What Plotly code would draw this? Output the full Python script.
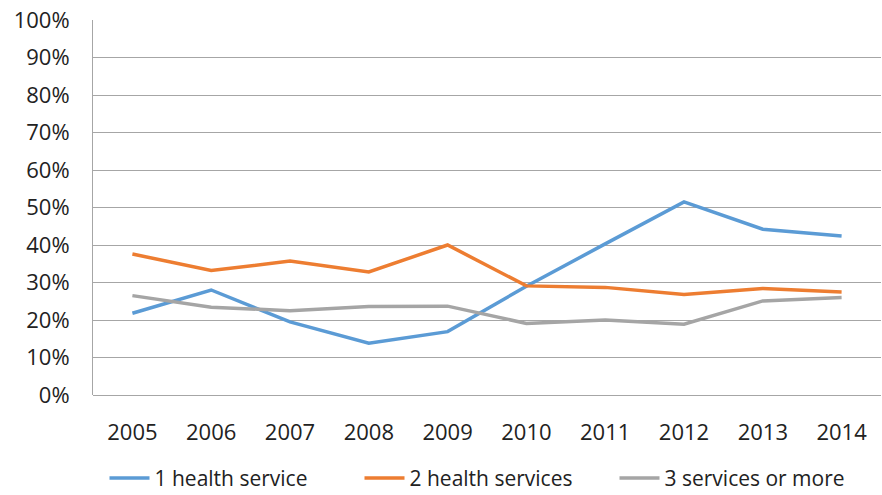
import plotly.graph_objects as go

years = ["2005", "2006", "2007", "2008", "2009", "2010", "2011", "2012", "2013", "2014"]
one_service = [21.8, 28.0, 19.5, 13.8, 16.9, 29.0, 40.3, 51.5, 44.2, 42.4]
two_services = [37.6, 33.2, 35.7, 32.8, 40.0, 29.1, 28.7, 26.8, 28.4, 27.5]
three_plus = [26.5, 23.4, 22.5, 23.6, 23.7, 19.1, 20.0, 18.9, 25.1, 26.0]
y_ticks = [0, 10, 20, 30, 40, 50, 60, 70, 80, 90, 100]

fig = go.Figure()
for name, vals, col in [
    ("1 health service", one_service, "#5b9bd5"),
    ("2 health services", two_services, "#ed7d31"),
    ("3 services or more", three_plus, "#a5a5a5"),
]:
    fig.add_trace(go.Scatter(x=years, y=vals, name=name, mode="lines",
                             line=dict(color=col, width=3.5)))

fig.update_layout(
    width=882, height=495,
    margin=dict(l=93, r=1, t=20, b=100, autoexpand=False),
    paper_bgcolor="white", plot_bgcolor="white",
    font=dict(family="Open Sans, Lato, sans-serif", size=22, color="#222"),
    showlegend=True,
    legend=dict(orientation="h", x=0.5, xanchor="center", y=-0.222, yanchor="middle",
                font=dict(size=21), entrywidth=200, itemwidth=40,
                tracegroupgap=0, borderwidth=0),
    xaxis=dict(type="category", range=[-0.5, 9.5], showgrid=False,
               ticks="", showline=False, tickfont=dict(size=22),
               ticklabelstandoff=22),
    yaxis=dict(range=[0, 100], tickvals=y_ticks,
               ticktext=[f"{v}%" for v in y_ticks],
               showgrid=True, gridcolor="#a6a6a6", gridwidth=1,
               showline=True, linecolor="#a6a6a6", linewidth=1,
               zeroline=True, zerolinecolor="#a6a6a6", zerolinewidth=1,
               ticks="", tickfont=dict(size=22), ticklabelstandoff=18),
)

fig.write_html("out.html")
